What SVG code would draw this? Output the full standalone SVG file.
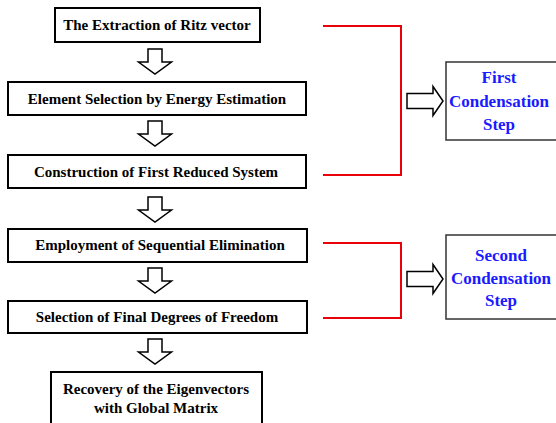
<svg xmlns="http://www.w3.org/2000/svg" width="556" height="423" viewBox="0 0 556 423">
<style>
.box{fill:#fff;stroke:#000;stroke-width:2}
.rbox{fill:#fff;stroke:#333;stroke-width:1.5}
.t{font-family:"Liberation Serif","Times New Roman",serif;font-weight:bold;font-size:15px;fill:#000;text-anchor:middle}
.b{font-family:"Liberation Serif","Times New Roman",serif;font-weight:bold;font-size:17px;fill:#1a1aff;text-anchor:middle}
.arr{fill:#fff;stroke:#000;stroke-width:1.5;stroke-linejoin:miter}
.br{fill:none;stroke:#e8000b;stroke-width:2}
</style>
<defs>
<path id="down" d="M-7,0 H7 V13 H16.5 L0,25 L-16.5,13 H-7 Z"/>
<path id="right" d="M0,-7.5 H26 V-14.5 L36,0 L26,14.5 V7.5 H0 Z"/>
</defs>
<g id="connectors">
<use href="#down" class="arr" x="155" y="49"/>
<use href="#down" class="arr" x="155" y="121"/>
<use href="#down" class="arr" x="155" y="197"/>
<use href="#down" class="arr" x="155" y="268"/>
<use href="#down" class="arr" x="155" y="339"/>
<path class="br" d="M323,26 H401 V175 H323"/>
<path class="br" d="M323,243 H401 V318 H323"/>
<use href="#right" class="arr" x="407" y="101"/>
<use href="#right" class="arr" x="407" y="279"/>
</g>
<g id="n1"><rect class="box" x="55" y="8" width="205" height="34"/><text class="t" x="157" y="30">The Extraction of Ritz vector</text></g>
<g id="n2"><rect class="box" x="8" y="82" width="298" height="33"/><text class="t" x="157" y="104">Element Selection by Energy Estimation</text></g>
<g id="n3"><rect class="box" x="8" y="155" width="298" height="33"/><text class="t" x="156" y="177">Construction of First Reduced System</text></g>
<g id="n4"><rect class="box" x="8" y="229" width="299" height="33"/><text class="t" x="160" y="250">Employment of Sequential Elimination</text></g>
<g id="n5"><rect class="box" x="8" y="301" width="299" height="32"/><text class="t" x="157" y="322">Selection of Final Degrees of Freedom</text></g>
<g id="n6"><rect class="box" x="51" y="372" width="211" height="60"/><text class="t" x="156" y="394">Recovery of the Eigenvectors</text><text class="t" x="156" y="413">with Global Matrix</text></g>
<g id="s1"><rect class="rbox" x="446" y="62" width="120" height="78"/><text class="b" x="499" y="83">First</text><text class="b" x="499" y="107">Condensation</text><text class="b" x="499" y="130">Step</text></g>
<g id="s2"><rect class="rbox" x="446" y="235" width="120" height="84"/><text class="b" x="501" y="261">Second</text><text class="b" x="501" y="284">Condensation</text><text class="b" x="501" y="306">Step</text></g>
</svg>
